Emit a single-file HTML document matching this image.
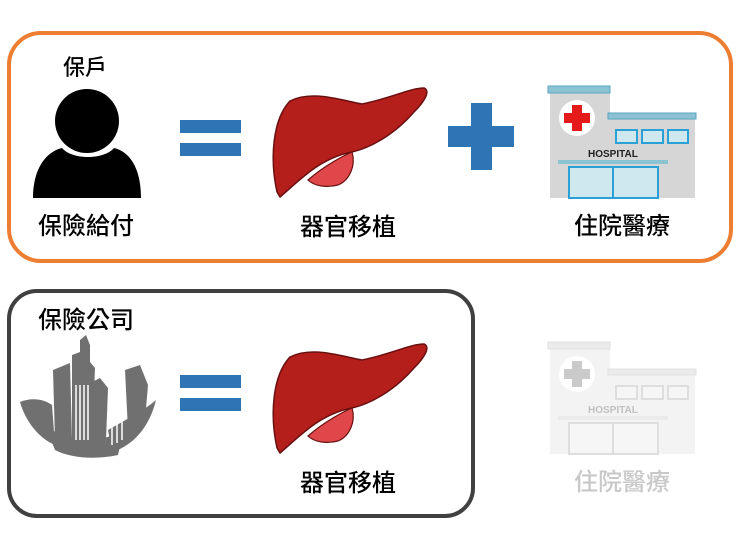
<!DOCTYPE html>
<html><head><meta charset="utf-8"><style>
body{margin:0;background:#fff;}
svg{display:block;}
text{font-family:"Liberation Sans","Noto Sans CJK TC",sans-serif;font-weight:500;}
text.b{font-weight:bold;}
</style></head><body>
<svg width="740" height="555" viewBox="0 0 740 555">
<defs>
<g id="liver">
<path d="M277,192 C270,160 272,120 290,101 C312,90 340,100 362,104 C392,98 410,88 424,88 C431,91 424,102 414,112 C394,135 370,148 352,152 C320,158 300,180 280,197 Z" fill="#b41f1c" stroke="#6a1010" stroke-width="1.5"/>
<path d="M308,180 C325,165 345,155 352,152 C356,165 350,180 338,185 C326,188 314,186 308,180 Z" fill="#e0474a" stroke="#6a1010" stroke-width="1.2"/>
</g>
<g id="hosp">
<rect x="550" y="92" width="60" height="106" fill="#d6d6d6"/>
<rect x="608" y="118" width="87" height="80" fill="#d6d6d6"/>
<rect x="548" y="86" width="62" height="7" fill="#8cc3d3" stroke="#5aa6c0"/>
<rect x="608" y="113" width="88" height="6" fill="#8cc3d3" stroke="#5aa6c0"/>
<circle cx="577" cy="118" r="18" fill="#fff"/>
<rect x="572" y="105" width="10" height="26" fill="#e51b1b"/>
<rect x="564" y="113" width="26" height="10" fill="#e51b1b"/>
<rect x="616" y="130" width="21" height="13" fill="#cfe7ef" stroke="#2aa0d5" stroke-width="2"/>
<rect x="642" y="130" width="21" height="13" fill="#cfe7ef" stroke="#2aa0d5" stroke-width="2"/>
<rect x="668" y="130" width="20" height="13" fill="#cfe7ef" stroke="#2aa0d5" stroke-width="2"/>
<text class="b" x="588" y="157" font-size="10" fill="#222">HOSPITAL</text>
<rect x="558" y="160" width="110" height="4" fill="#8cc3d3"/>
<rect x="569" y="167" width="44" height="31" fill="#cfe7ef" stroke="#2aa0d5" stroke-width="2"/>
<rect x="613" y="167" width="45" height="31" fill="#cfe7ef" stroke="#2aa0d5" stroke-width="2"/>
</g>
</defs>
<rect x="9" y="33" width="722" height="228" rx="32" fill="none" stroke="#ed7d31" stroke-width="4"/>
<rect x="9" y="291" width="464" height="225" rx="28" fill="none" stroke="#404040" stroke-width="4"/>

<text x="63" y="75" font-size="22">保戶</text>
<path d="M33,198 C33,170 45,152 62,148 C72,160 104,160 114,148 C131,152 141,170 141,198 Z" fill="#000"/>
<circle cx="87" cy="121" r="32" fill="#000"/>
<text x="38" y="234" font-size="24">保險給付</text>

<rect x="180" y="120" width="61" height="13" fill="#2e75b6"/>
<rect x="180" y="143" width="61" height="13" fill="#2e75b6"/>
<use href="#liver"/>
<text x="300" y="235" font-size="24">器官移植</text>
<rect x="448" y="126" width="66" height="21" fill="#2e75b6"/>
<rect x="471" y="103" width="21" height="67" fill="#2e75b6"/>
<use href="#hosp"/>
<text x="574" y="234" font-size="24">住院醫療</text>

<text x="38" y="328" font-size="24">保險公司</text>
<g fill="#707070">
<polygon points="53,370 70,363 72,440 55,440"/>
<polygon points="72,355 80,352 80,340 86,335 90,345 90,362 95,368 92,440 72,440"/>
<polygon points="92,382 100,378 108,388 106,440 92,440"/>
<polygon points="125,370 140,365 148,385 145,420 128,430"/>
<path d="M20,402 C30,398 42,398 52,405 L55,445 C38,438 25,420 20,402 Z"/>
<path d="M108,430 C125,420 145,410 156,400 C150,425 135,445 112,452 Z"/>
<path d="M45,425 C70,445 110,445 125,425 L118,455 C95,460 70,458 55,450 Z"/>
</g>
<g stroke="#fff" stroke-width="1.5">
<line x1="76" y1="385" x2="76" y2="440"/><line x1="80" y1="385" x2="80" y2="440"/><line x1="84" y1="385" x2="84" y2="440"/><line x1="88" y1="385" x2="88" y2="440"/>
<line x1="112" y1="420" x2="112" y2="445"/><line x1="117" y1="418" x2="117" y2="443"/><line x1="122" y1="415" x2="122" y2="440"/>
</g>
<rect x="180" y="375" width="61" height="13" fill="#2e75b6"/>
<rect x="180" y="398" width="61" height="13" fill="#2e75b6"/>
<use href="#liver" transform="translate(0,256)"/>
<text x="300" y="491" font-size="24">器官移植</text>
<g opacity="0.28" style="filter:grayscale(1)"><use href="#hosp" transform="translate(0,256)"/></g>
<text x="574" y="490" font-size="24" fill="#c8c8c8">住院醫療</text>
</svg>
</body></html>
